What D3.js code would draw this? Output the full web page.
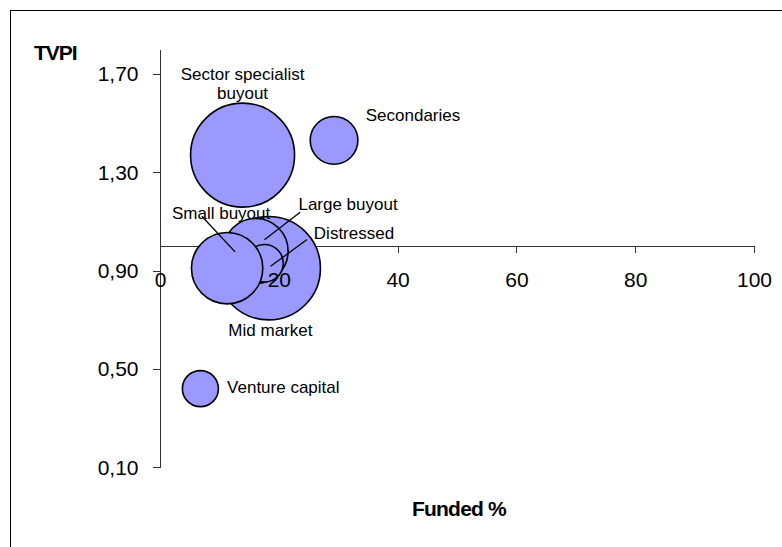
<!DOCTYPE html>
<html>
<head>
<meta charset="utf-8">
<script src="https://cdn.jsdelivr.net/npm/d3@7"></script>
<style>
  body { margin: 0; background: #fff; }
  svg { display: block; font-family: "Liberation Sans", Arial, sans-serif; }
  .axis path, .axis line { stroke: #333; stroke-width: 1; shape-rendering: crispEdges; }
  .axis text { font-size: 21px; fill: #000; }
  .bubble-label { font-size: 17px; fill: #000; }
</style>
</head>
<body>
<div id="chart"></div>
<script>
// data (drawing order matches the reference overlap)
var categories = ["Sector specialist buyout", "Secondaries", "Mid market", "Large buyout", "Distressed", "Small buyout", "Venture capital"];
var fundedPct = [13.9, 29.3, 18.3, 16.1, 17.6, 11.3, 6.8];
var tvpi = [1.37, 1.43, 0.91, 0.98, 0.93, 0.91, 0.42];
var bubbleSize = [100, 21, 99, 39, 13, 47, 12];
var xTicks = [0, 20, 40, 60, 80, 100];
var yTicks = [0.1, 0.5, 0.9, 1.3, 1.7];

// label placement relative to the bubble centre (px)
var labelLayout = {
  "Sector specialist buyout": {lines: ["Sector specialist", "buyout"], dx: 0, dy: -75.5, lh: 19, anchor: "middle"},
  "Secondaries": {lines: ["Secondaries"], dx: 31.7, dy: -19.3, anchor: "start"},
  "Mid market": {lines: ["Mid market"], dx: 1.7, dy: 67.7, anchor: "middle"},
  "Large buyout": {lines: ["Large buyout"], dx: 42.8, dy: -40.5, anchor: "start", leader: [44.5, -38.8, 8.8, -11.2]},
  "Distressed": {lines: ["Distressed"], dx: 49.3, dy: -24.7, anchor: "start", leader: [42.5, -23.7, 6, 3]},
  "Small buyout": {lines: ["Small buyout"], dx: -6, dy: -48.7, anchor: "middle", leader: [-25.3, -52, 8, -16.3]},
  "Venture capital": {lines: ["Venture capital"], dx: 26.7, dy: 4, anchor: "start"}
};

var width = 782, height = 547;
var plot = {left: 160, right: 754, top: 49.4, bottom: 467.3};

var svg = d3.select("#chart").append("svg")
    .attr("width", width)
    .attr("height", height);

// outer frame (runs off the right and bottom)
svg.append("rect")
    .attr("x", 10.5).attr("y", 10.5)
    .attr("width", width + 20).attr("height", height + 20)
    .attr("fill", "none").attr("stroke", "#000").attr("stroke-width", 1);

var x = d3.scaleLinear().domain([0, 100]).range([plot.left, plot.right]);
var y = d3.scaleLinear().domain([0.1, 1.8]).range([plot.bottom, plot.top]);
var r = d3.scaleSqrt().domain([0, d3.max(bubbleSize)]).range([0, 52]);

var fmt = function(d) { return d3.format(".2f")(d).replace(".", ","); };

var yAxis = d3.axisLeft(y).tickValues(yTicks).tickFormat(fmt).tickSize(7).tickSizeOuter(0).tickPadding(14.5);
var xAxis = d3.axisBottom(x).tickValues(xTicks).tickFormat(d3.format("d")).tickSize(7).tickSizeOuter(0).tickPadding(19);

// axis lines and ticks (behind the bubbles)
var gy = svg.append("g")
    .attr("class", "axis")
    .attr("transform", "translate(" + x(0) + ",0)")
    .call(yAxis);
gy.selectAll("text").remove();

var gx = svg.append("g")
    .attr("class", "axis")
    .attr("transform", "translate(0," + y(1.0) + ")")
    .call(xAxis);
gx.selectAll("text").remove();

var data = categories.map(function(c, i) {
  return {name: c, fx: fundedPct[i], fy: tvpi[i], size: bubbleSize[i]};
});

svg.selectAll(".bubble")
    .data(data)
    .enter().append("circle")
    .attr("class", "bubble")
    .attr("cx", function(d) { return x(d.fx); })
    .attr("cy", function(d) { return y(d.fy); })
    .attr("r", function(d) { return r(d.size); })
    .attr("fill", "#9999ff")
    .attr("stroke", "#000")
    .attr("stroke-width", 1.6);

// tick labels drawn on top of the bubbles
var ly = svg.append("g")
    .attr("class", "axis")
    .attr("transform", "translate(" + x(0) + ",0)")
    .call(yAxis);
ly.selectAll(".domain, line").remove();

var lx = svg.append("g")
    .attr("class", "axis")
    .attr("transform", "translate(0," + y(1.0) + ")")
    .call(xAxis);
lx.selectAll(".domain, line").remove();

// leader lines
data.forEach(function(d) {
  var L = labelLayout[d.name];
  if (!L.leader) return;
  var cx = x(d.fx), cy = y(d.fy);
  svg.append("line")
      .attr("x1", cx + L.leader[0]).attr("y1", cy + L.leader[1])
      .attr("x2", cx + L.leader[2]).attr("y2", cy + L.leader[3])
      .attr("stroke", "#000").attr("stroke-width", 1.3);
});

// labels
data.forEach(function(d) {
  var L = labelLayout[d.name];
  var cx = x(d.fx), cy = y(d.fy);
  var t = svg.append("text")
      .attr("class", "bubble-label")
      .attr("text-anchor", L.anchor)
      .attr("x", cx + L.dx)
      .attr("y", cy + L.dy);
  L.lines.forEach(function(line, i) {
    t.append("tspan")
        .attr("x", cx + L.dx)
        .attr("dy", i === 0 ? 0 : (L.lh || 17))
        .text(line);
  });
});

// axis titles
svg.append("text")
    .attr("x", 34).attr("y", 60)
    .attr("font-size", 21).attr("font-weight", "bold")
    .attr("letter-spacing", -1)
    .text("TVPI");

svg.append("text")
    .attr("x", 459).attr("y", 515.7)
    .attr("text-anchor", "middle")
    .attr("font-size", 21).attr("font-weight", "bold")
    .attr("letter-spacing", -0.8)
    .text("Funded %");
</script>
</body>
</html>
